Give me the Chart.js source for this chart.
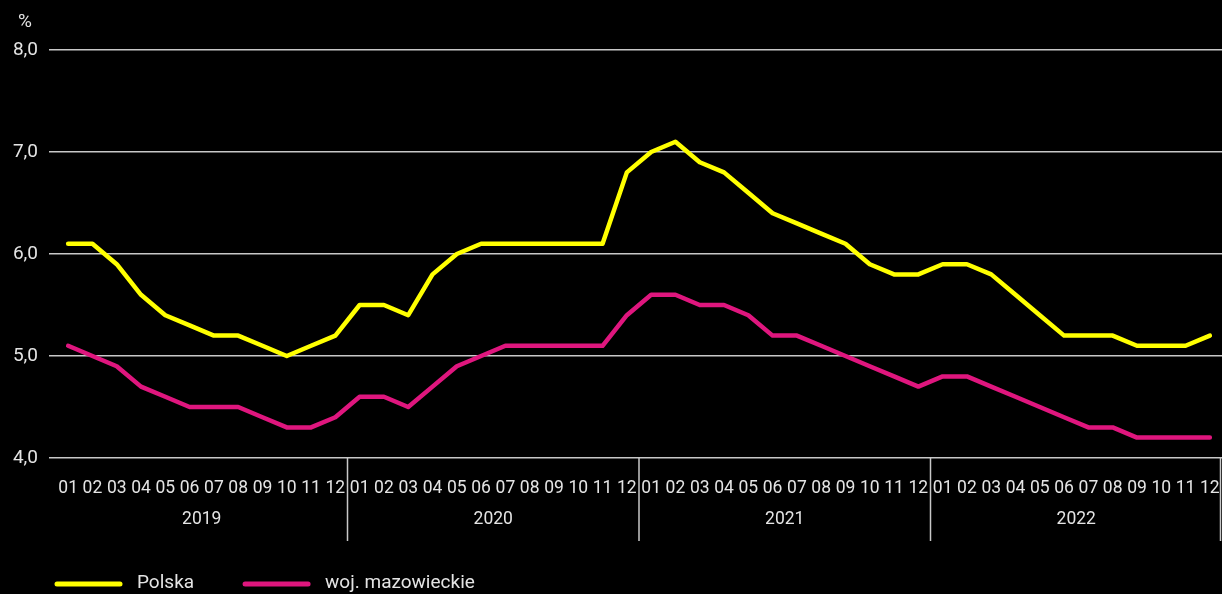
<!DOCTYPE html>
<html><head><meta charset="utf-8">
<script src="https://cdn.jsdelivr.net/npm/chart.js@4.4.1/dist/chart.umd.min.js"></script>
<style>html,body{margin:0;padding:0;background:#000;overflow:hidden}#wrap{width:1222px;height:594px;position:relative}canvas{display:block}</style>
</head><body><div id="wrap"><canvas id="c" width="1222" height="594" style="width:1222px;height:594px"></canvas></div>
<script>
const months = ['01','02','03','04','05','06','07','08','09','10','11','12',
                '01','02','03','04','05','06','07','08','09','10','11','12',
                '01','02','03','04','05','06','07','08','09','10','11','12',
                '01','02','03','04','05','06','07','08','09','10','11','12'];
const years = ['2019','2020','2021','2022'];
const monthsPerYear = 12;
const seriesNames = ['Polska','woj. mazowieckie'];
const polska = [6.1,6.1,5.9,5.6,5.4,5.3,5.2,5.2,5.1,5.0,5.1,5.2,
                5.5,5.5,5.4,5.8,6.0,6.1,6.1,6.1,6.1,6.1,6.1,6.8,
                7.0,7.1,6.9,6.8,6.6,6.4,6.3,6.2,6.1,5.9,5.8,5.8,
                5.9,5.9,5.8,5.6,5.4,5.2,5.2,5.2,5.1,5.1,5.1,5.2];
const mazowieckie = [5.1,5.0,4.9,4.7,4.6,4.5,4.5,4.5,4.4,4.3,4.3,4.4,
                     4.6,4.6,4.5,4.7,4.9,5.0,5.1,5.1,5.1,5.1,5.1,5.4,
                     5.6,5.6,5.5,5.5,5.4,5.2,5.2,5.1,5.0,4.9,4.8,4.7,
                     4.8,4.8,4.7,4.6,4.5,4.4,4.3,4.3,4.2,4.2,4.2,4.2];
const yMin = 4, yMax = 8, yStep = 1;
const unitLabel = '%';

const YELLOW = '#FFFF00';
const MAGENTA = '#DF167E';
const TEXT = '#E4E4E4';
const GRID = '#C8C8C8';
const FONT = 'Roboto, "Noto Sans", sans-serif';

const decor = {
  id: 'decor',
  afterDraw(chart) {
    const {ctx, chartArea, scales} = chart;
    const x = scales.x;
    ctx.save();
    ctx.fillStyle = TEXT;
    ctx.font = '19px ' + FONT;
    ctx.textAlign = 'center';
    ctx.textBaseline = 'middle';
    ctx.fillText(unitLabel, 25, 22);
    const half = (x.getPixelForValue(1) - x.getPixelForValue(0)) / 2;
    const top = chartArea.bottom;
    ctx.strokeStyle = GRID;
    ctx.lineWidth = 1.5;
    ctx.font = '17.5px ' + FONT;
    years.forEach((yr, k) => {
      const s = k * monthsPerYear, e = s + monthsPerYear - 1;
      const left = x.getPixelForValue(s) - half;
      const right = x.getPixelForValue(e) + half;
      const rx = Math.min(right, chart.width - 1.5);
      ctx.beginPath();
      ctx.moveTo(rx, top);
      ctx.lineTo(rx, top + 83);
      ctx.stroke();
      ctx.fillText(yr, (left + right) / 2, top + 62);
    });
    let lx = 55;
    const ly = 584;
    ctx.font = '19px ' + FONT;
    ctx.textAlign = 'left';
    chart.data.datasets.forEach(ds => {
      ctx.strokeStyle = ds.borderColor;
      ctx.lineWidth = 5;
      ctx.lineCap = 'round';
      ctx.beginPath();
      ctx.moveTo(lx + 2, ly);
      ctx.lineTo(lx + 65, ly);
      ctx.stroke();
      ctx.fillStyle = TEXT;
      ctx.fillText(ds.label, lx + 82, ly - 1);
      lx += 82 + ctx.measureText(ds.label).width + 49;
    });
    ctx.restore();
  }
};

new Chart(document.getElementById('c'), {
  type: 'line',
  data: {
    labels: months,
    datasets: [
      {label: seriesNames[0], data: polska, borderColor: YELLOW, backgroundColor: YELLOW,
       borderWidth: 4.5, pointRadius: 0, tension: 0, borderJoinStyle: 'round', borderCapStyle: 'round'},
      {label: seriesNames[1], data: mazowieckie, borderColor: MAGENTA, backgroundColor: MAGENTA,
       borderWidth: 4.5, pointRadius: 0, tension: 0, borderJoinStyle: 'round', borderCapStyle: 'round'}
    ]
  },
  options: {
    responsive: false,
    devicePixelRatio: 1,
    animation: false,
    layout: {padding: {top: 50, left: 0, right: 0, bottom: 0}},
    plugins: {legend: {display: false}, tooltip: {enabled: false}},
    scales: {
      x: {
        offset: true,
        grid: {display: false, drawTicks: false},
        border: {display: false},
        ticks: {color: TEXT, font: {size: 17.5, family: FONT}, autoSkip: false, maxRotation: 0, padding: 20},
        afterFit(s) { s.height = 136; s.paddingLeft = 0; s.paddingRight = 0; }
      },
      y: {
        min: yMin, max: yMax,
        grid: {color: GRID, lineWidth: 1.5, tickLength: 7, tickColor: GRID},
        border: {display: false},
        ticks: {stepSize: yStep, color: TEXT, padding: 11, font: {size: 19, family: FONT},
                callback: v => v.toFixed(1).replace('.', ',')},
        afterFit(s) { s.width = 56; s.paddingTop = 0; s.paddingBottom = 0; }
      }
    }
  },
  plugins: [decor]
});
</script>
</body></html>
